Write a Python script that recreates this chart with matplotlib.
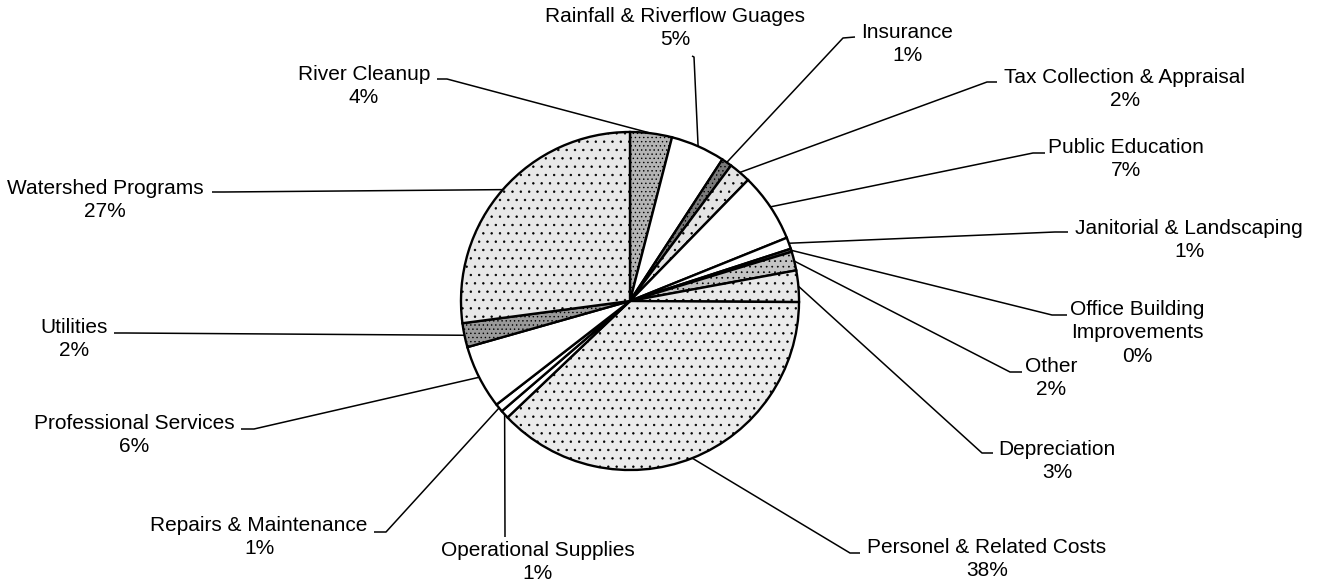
import matplotlib
matplotlib.use("Agg")
import matplotlib.pyplot as plt
import numpy as np

# expense categories, clockwise from 12 o'clock
names = [
    "River Cleanup",
    "Rainfall & Riverflow Guages",
    "Insurance",
    "Tax Collection & Appraisal",
    "Public Education",
    "Janitorial & Landscaping",
    "Office Building\nImprovements",
    "Other",
    "Depreciation",
    "Personel & Related Costs",
    "Operational Supplies",
    "Repairs & Maintenance",
    "Professional Services",
    "Utilities",
    "Watershed Programs",
]
# share of budget (%)
values = [4.0, 5.2, 1.0, 2.1, 6.6, 1.1, 0.3, 1.8, 3.0,
          37.8, 0.8, 0.8, 6.1, 2.3, 27.1]

# ---- layout (picture pixels, y downwards) ----
W, H = 1324, 585
pie_center = (630, 301)
pie_radius = 169

fills = ["#b4b4b4", "white", "#7a7a7a", "#e4e4e4", "white", "white",
         "#5a5a5a", "#c4c4c4", "#e8e8e8", "#ebebeb", "white", "white",
         "white", "#9a9a9a", "#e8e8e8"]
hatches = ["....", None, "....", "..", None, None, None, "...", "..",
           "..", None, None, None, "....", ".."]

# centre of each label block
label_xy = [(364, 86), (675, 28), (907, 44), (1125, 89), (1126, 159),
            (1189, 240), (1137, 333), (1051, 378), (1057, 461), (987, 559),
            (538, 562), (259, 537), (134, 435), (74, 339), (105, 200)]
# leader line: elbow point, then the short end piece next to the text
elbow = [(447, 79), (694, 57), (843, 38), (987, 82), (1033, 153),
         (1055, 232), (1052, 315), (1010, 372), (982, 453), (850, 553),
         (505, 537), (386, 532), (254, 429), (126, 333), (224, 192)]
tail = [(437, 79), (692, 56), (855, 37), (997, 82), (1045, 153),
        (1068, 232), (1067, 315), (1022, 372), (993, 453), (860, 553),
        (505, 537), (374, 532), (241, 429), (114, 333), (212, 192)]

plt.rcParams['font.family'] = ['Liberation Sans', 'DejaVu Sans']
plt.rcParams['hatch.linewidth'] = 0.5

fig = plt.figure(figsize=(W / 100, H / 100), dpi=100)
ax = fig.add_axes([0, 0, 1, 1])

total = sum(values)
wedges, _ = ax.pie(values, center=pie_center, radius=pie_radius,
                   startangle=-90, counterclock=True,
                   explode=[0.02] * len(values),
                   colors=fills,
                   wedgeprops=dict(edgecolor="black", linewidth=1.7))
for w, h in zip(wedges, hatches):
    if h:
        w.set_hatch(h)

for i, w in enumerate(wedges):
    mid = np.radians((w.theta1 + w.theta2) / 2)
    px = w.center[0] + w.r * np.cos(mid)
    py = w.center[1] + w.r * np.sin(mid)
    ex, ey = elbow[i]
    tx, ty = tail[i]
    ax.plot([px, ex, tx], [py, ey, ty], color="black", lw=1.1,
            solid_capstyle="butt")
    pct = int(values[i] / total * 100 + 0.5)
    ax.text(label_xy[i][0], label_xy[i][1], f"{names[i]}\n{pct}%",
            ha="center", va="center", fontsize=15, linespacing=1.32)

ax.set_xlim(0, W)
ax.set_ylim(H, 0)
ax.set_aspect("equal")
ax.axis("off")

fig.savefig("out.png", dpi=100, facecolor="white")
